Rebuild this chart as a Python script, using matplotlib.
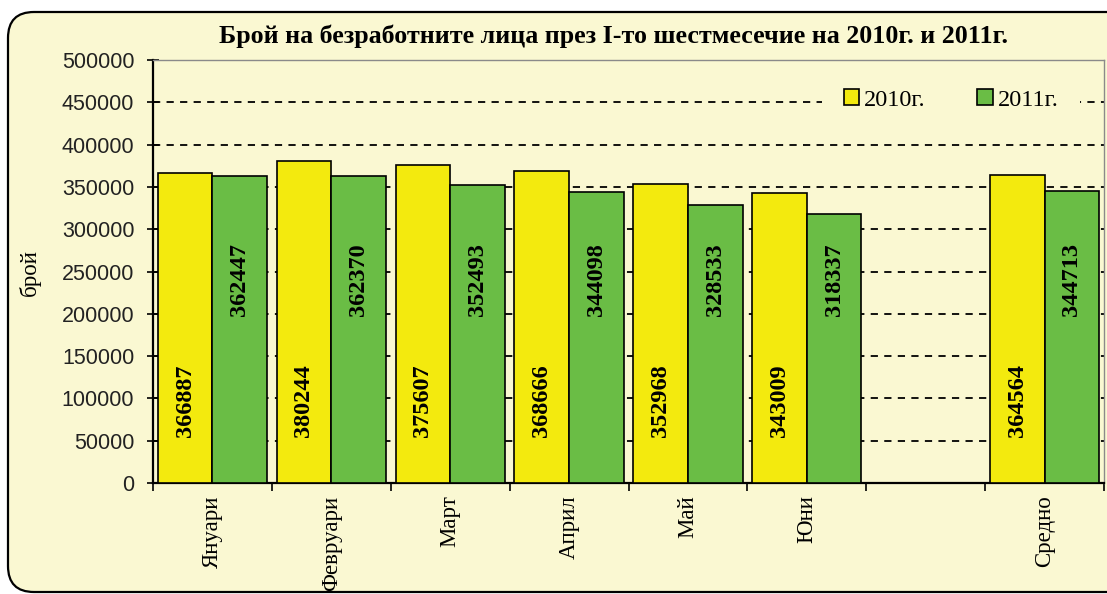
import numpy as np
import matplotlib
matplotlib.use("Agg")
import matplotlib.pyplot as plt
from matplotlib.patches import FancyBboxPatch
from matplotlib.transforms import IdentityTransform

# ---- data ----
categories = ['Януари', 'Февруари', 'Март', 'Април', 'Май', 'Юни', '', 'Средно']
values_2010 = [366887, 380244, 375607, 368666, 352968, 343009, np.nan, 364564]
values_2011 = [362447, 362370, 352493, 344098, 328533, 318337, np.nan, 344713]
series_names = ['2010г.', '2011г.']
title = 'Брой на безработните лица през I-то шестмесечие на 2010г. и 2011г.'
ylabel = 'брой'

# ---- style ----
CREAM = '#FAF8D2'
YELLOW = '#F3EA0E'
GREEN = '#6ABD45'
SERIF = 'Liberation Serif'
SANS = 'Liberation Sans'

W, H = 1107, 594
fig = plt.figure(figsize=(W / 100, H / 100), dpi=100)
fig.patch.set_facecolor('white')

# rounded outer border (right side runs past the picture edge)
border = FancyBboxPatch((8, 2), 1160, H - 12 - 2,
                        boxstyle='round,pad=0,rounding_size=26',
                        transform=IdentityTransform(), fc=CREAM, ec='black',
                        lw=1.6, zorder=0)
fig.add_artist(border)

ax = fig.add_axes([153 / W, 1 - 483 / H, (1104 - 153) / W, (483 - 60) / H])
ax.set_facecolor('none')

n = len(categories)
x = np.arange(n)
bw = 0.46
ax.bar(x + 0.5 - bw / 2, values_2010, width=bw, color=YELLOW, edgecolor='black',
       linewidth=1.2, zorder=3, label=series_names[0])
ax.bar(x + 0.5 + bw / 2, values_2011, width=bw, color=GREEN, edgecolor='black',
       linewidth=1.2, zorder=3, label=series_names[1])

# value labels
for i in range(n):
    v1, v2 = values_2010[i], values_2011[i]
    if not np.isnan(v1):
        ax.text(x[i] + 0.5 - bw / 2, 97000, f'{int(v1)}', rotation=90,
                ha='center', va='center', fontfamily=SERIF, fontweight='bold',
                fontsize=17.5, zorder=5)
    if not np.isnan(v2):
        ax.text(x[i] + 0.5 + bw / 2, 240000, f'{int(v2)}', rotation=90,
                ha='center', va='center', fontfamily=SERIF, fontweight='bold',
                fontsize=17.5, zorder=5)

ax.set_xlim(0, n)
ax.set_ylim(0, 500000)
ax.set_yticks(np.arange(0, 500001, 50000))
ax.set_yticklabels([f'{v}' for v in range(0, 500001, 50000)],
                   fontfamily=SANS, fontsize=15.5, color='#222222')
ax.tick_params(axis='y', direction='inout', length=9, width=1.2, pad=9)

ax.set_xticks(np.arange(0, n + 1))
ax.set_xticklabels([])
ax.set_xticks(x + 0.5, minor=True)
ax.set_xticklabels(categories, minor=True, rotation=90, fontfamily=SERIF,
                   fontsize=16.5, va='top', ha='center')
ax.tick_params(axis='x', which='major', direction='out', length=6, width=1.2)
ax.tick_params(axis='x', which='minor', length=0, pad=9)

# gridlines
for gy in range(50000, 500000, 50000):
    ax.axhline(gy, color='black', lw=1.3, ls=(0, (4, 3.5)), zorder=1)

for s in ['left', 'bottom']:
    ax.spines[s].set_color('black')
    ax.spines[s].set_linewidth(1.6)
for s in ['top', 'right']:
    ax.spines[s].set_color('#8a8a8a')
    ax.spines[s].set_linewidth(1.0)

leg = ax.legend(ncol=2, loc='center', bbox_to_anchor=(951 / W, 1 - 100 / H),
                bbox_transform=fig.transFigure, frameon=True, fancybox=False,
                prop={'family': SERIF, 'size': 17.5}, handlelength=0.65,
                handleheight=0.65, handletextpad=0.2, columnspacing=2.1,
                borderpad=0.9, borderaxespad=0)
leg.get_frame().set_facecolor(CREAM)
leg.get_frame().set_edgecolor('none')
leg.get_frame().set_alpha(1)
leg.set_zorder(6)

fig.text(613 / W, 1 - 36 / H, title, ha='center', va='center',
         fontfamily=SERIF, fontweight='bold', fontsize=18.7)
fig.text(30 / W, 1 - 273 / H, ylabel, ha='center', va='center', rotation=90,
         fontfamily=SERIF, fontsize=16.5)

fig.savefig('out.png', dpi=100, facecolor=fig.get_facecolor())
